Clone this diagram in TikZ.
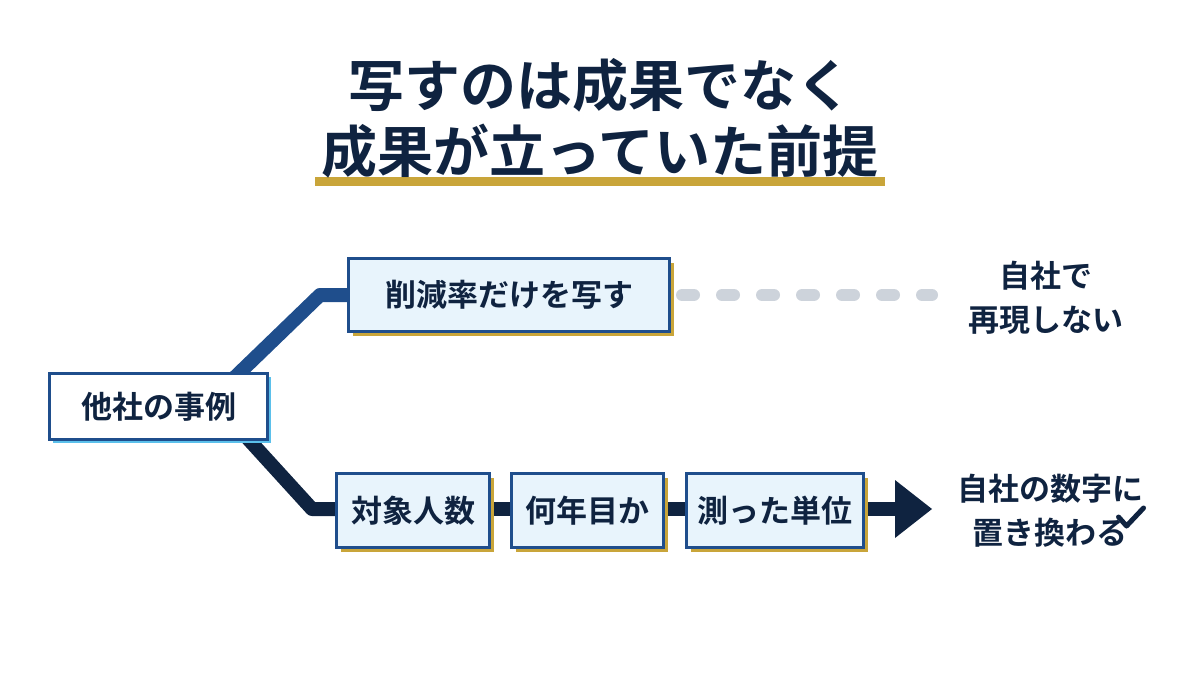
\documentclass[tikz,border=0pt]{standalone}
\usepackage{fontspec}
\setmainfont{Noto Sans CJK JP}[BoldFont={* Bold}]
\newfontfamily\cjk{Noto Sans CJK JP Bold}
\definecolor{navy}{HTML}{0F2340}
\definecolor{bblue}{HTML}{1F4E8C}
\definecolor{gold}{HTML}{C9A53A}
\definecolor{lblue}{HTML}{E8F4FC}
\definecolor{sky}{HTML}{5BC0EB}
\definecolor{dgray}{HTML}{CDD3DB}
\begin{document}
\begin{tikzpicture}[x=1pt,y=-1pt,
 box/.style={draw=bblue,line width=3pt,fill=lblue,text=navy,font=\cjk\fontsize{31}{36}\selectfont,anchor=north west,inner sep=0pt},
 txt/.style={text=navy,font=\cjk\fontsize{31}{44}\selectfont,align=center}]
\useasboundingbox (0,0) rectangle (1200,691);
% title
\fill[gold] (315,177) rectangle (885,186);
\node[txt,font=\cjk\fontsize{56}{66}\selectfont] (title) at (600,118) {写すのは成果でなく\\成果が立っていた前提};
% connectors
\coordinate (tb) at (320,295);
\coordinate (bb) at (312,509);
\draw[bblue,line width=14pt,line join=round] (232,380) -- (tb) -- (350,295);
\draw[navy,line width=14pt,line join=round] (240,430) -- (bb) -- (340,509);
\draw[navy,line width=14pt] (488,509) -- (512,509) (660,509) -- (688,509) (860,509) -- (898,509);
\fill[navy] (895,480) -- (932,509) -- (895,538) -- cycle;
\draw[dgray,line width=12pt,line cap=round,dash pattern=on 12pt off 28pt] (682,295) -- (932,295);
% shadows
\fill[sky] (53,377) rectangle (271,443);
\fill[gold] (353,263) rectangle (674,336);
\fill[gold] (341,478) rectangle (494,552);
\fill[gold] (516,478) rectangle (668,552);
\fill[gold] (691,478) rectangle (868,552);
% boxes
\node[box,fill=white,minimum width=218pt,minimum height=66pt] (a) at (48,372) {他社の事例};
\node[box,minimum width=321pt,minimum height=73pt] (b) at (347,257) {削減率だけを写す};
\node[box,minimum width=153pt,minimum height=74pt] (c) at (335,472) {対象人数};
\node[box,minimum width=152pt,minimum height=74pt] (d) at (510,472) {何年目か};
\node[box,minimum width=177pt,minimum height=74pt] (e) at (685,472) {測った単位};
% right texts
\node[txt] (r1) at (1046,298) {自社で\\再現しない};
\node[txt] (r2) at (1050,511) {自社の数字に\\置き換わる\hspace{30pt}};
\draw[navy,line width=5pt,line join=round,line cap=round] ([xshift=-30pt,yshift=-12pt]r2.east) ++(2,-6) -- ++(8,9) -- ++(17,-18);
\end{tikzpicture}
\end{document}
